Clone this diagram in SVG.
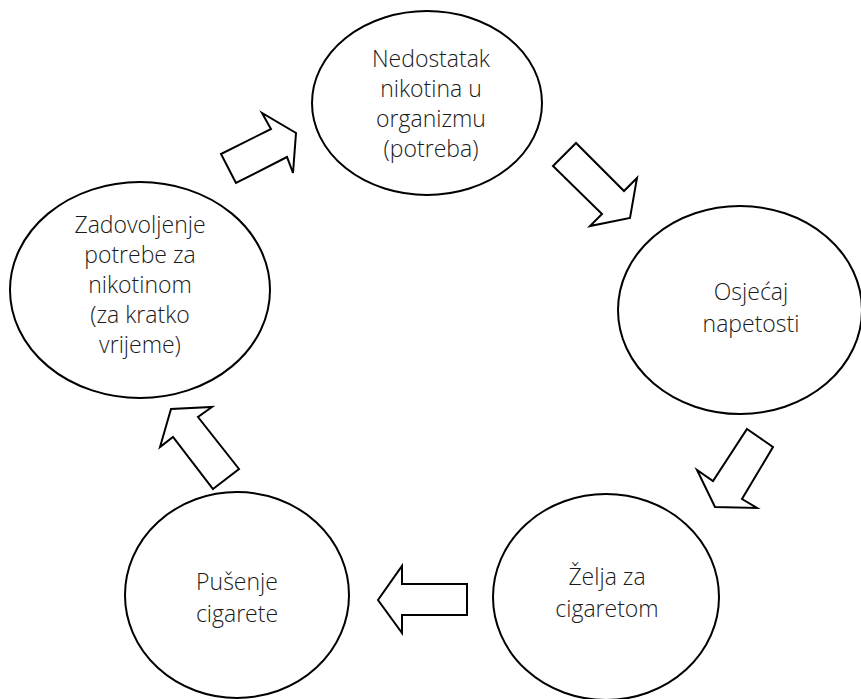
<svg xmlns="http://www.w3.org/2000/svg" width="861" height="699" viewBox="0 0 861 699">
<style>
.n{fill:#fff;stroke:#000;stroke-width:2}
.a{fill:#fff;stroke:#000;stroke-width:2;stroke-linejoin:miter}
text{font-family:"Open Sans","Noto Sans",sans-serif;font-weight:300;font-size:23px;fill:#1a1a1a;text-anchor:middle}
</style>
<rect width="861" height="699" fill="#fff"/>
<g id="connectors">
<polygon class="a" points="236,183 221,154 271,129 262,113 296,133 293,173 287,157"/>
<polygon class="a" points="576,143 553,166 602,214 590,226 630,218 637,178 624,191"/>
<polygon class="a" points="747,429 773,447 742,499 757,508 715,507 697,470 713,481"/>
<polygon class="a" points="467,584 467,615 402,615 402,633 378,600 402,566 402,584"/>
<polygon class="a" points="213,489 239,469 198,417 212,407 171,409 160,447 173,437"/>
</g>
<g id="n1">
<ellipse class="n" cx="427" cy="103" rx="115" ry="92"/>
<text x="431" y="67">Nedostatak</text>
<text x="431" y="97">nikotina u</text>
<text x="431" y="127">organizmu</text>
<text x="431" y="157">(potreba)</text>
</g>
<g id="n2">
<ellipse class="n" cx="740" cy="310" rx="122" ry="104"/>
<text x="751" y="300">Osjećaj</text>
<text x="751" y="332">napetosti</text>
</g>
<g id="n3">
<ellipse class="n" cx="606" cy="597" rx="113" ry="103"/>
<text x="607" y="585">Želja za</text>
<text x="607" y="617">cigaretom</text>
</g>
<g id="n4">
<ellipse class="n" cx="237" cy="595" rx="112" ry="103"/>
<text x="237" y="590">Pušenje</text>
<text x="237" y="622">cigarete</text>
</g>
<g id="n5">
<ellipse class="n" cx="140" cy="290" rx="130" ry="108"/>
<text x="140" y="233">Zadovoljenje</text>
<text x="140" y="263">potrebe za</text>
<text x="140" y="293">nikotinom</text>
<text x="140" y="323">(za kratko</text>
<text x="140" y="353">vrijeme)</text>
</g>
</svg>
